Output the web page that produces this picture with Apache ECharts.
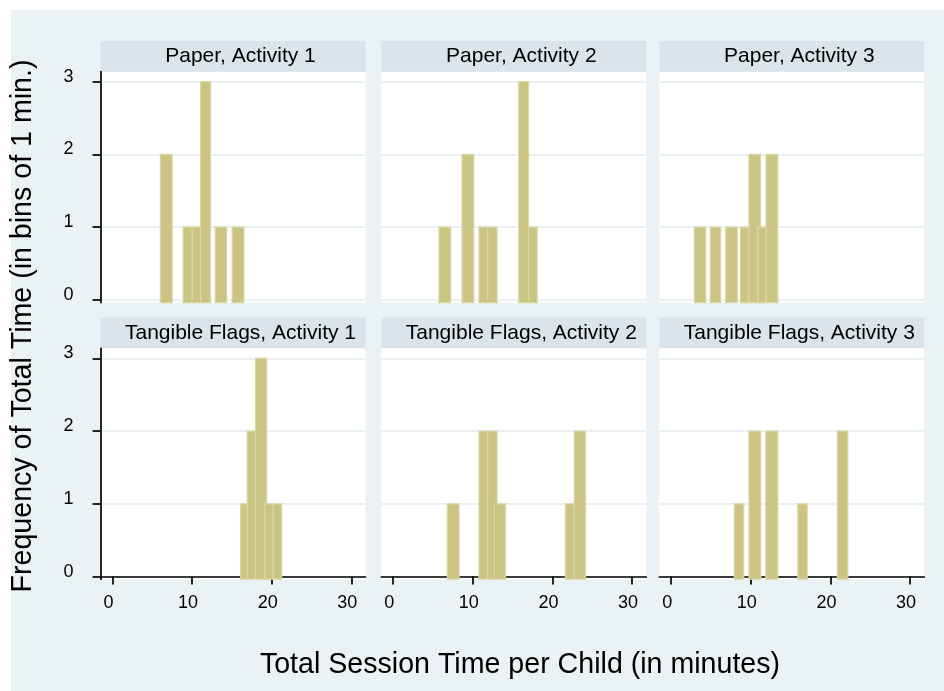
<!DOCTYPE html>
<html><head><meta charset="utf-8">
<script src="https://cdn.jsdelivr.net/npm/echarts@6.0.0/dist/echarts.min.js"></script>
<style>html,body{margin:0;padding:0;background:#fff}#c{width:944px;height:691px}</style>
</head><body><div id="c"></div>
<script>
// ---- data ----
const panelTitles = ['Paper, Activity 1', 'Paper, Activity 2', 'Paper, Activity 3',
  'Tangible Flags, Activity 1', 'Tangible Flags, Activity 2', 'Tangible Flags, Activity 3'];
const xTicks = [0, 10, 20, 30];
const yTicks = [0, 1, 2, 3];
const xTitle = 'Total Session Time per Child (in minutes)';
const yTitle = 'Frequency of Total Time (in bins of 1 min.)';
// bins: start and end (minutes) and frequency
const paper1Start = [6.03, 8.88, 10.02, 11.07, 12.91, 15.05];
const paper1End   = [7.50, 10.02, 11.07, 12.32, 14.34, 16.52];
const paper1Freq  = [2, 1, 1, 3, 1, 1];
const paper2Start = [5.75, 8.64, 10.78, 11.87, 15.77, 16.99];
const paper2End   = [7.22, 10.11, 11.87, 13.04, 16.99, 18.08];
const paper2Freq  = [1, 2, 1, 1, 3, 1];
const paper3Start = [2.90, 4.91, 6.84, 8.68, 9.77, 10.86, 11.91];
const paper3End   = [4.32, 6.21, 8.31, 9.77, 11.20, 11.91, 13.38];
const paper3Freq  = [1, 1, 1, 1, 2, 1, 2];
const flags1Start = [16.10, 16.93, 17.98, 19.12, 20.21];
const flags1End   = [16.93, 17.98, 19.37, 20.21, 21.25];
const flags1Freq  = [1, 2, 3, 1, 1];
const flags2Start = [6.80, 10.78, 11.87, 12.71, 21.64, 22.73];
const flags2End   = [8.26, 11.87, 13.04, 14.09, 22.73, 24.15];
const flags2Freq  = [1, 2, 2, 1, 1, 2];
const flags3Start = [7.93, 9.77, 11.87, 15.90, 20.88];
const flags3End   = [9.10, 11.24, 13.38, 17.07, 22.18];
const flags3Freq  = [1, 2, 2, 1, 2];

const starts = [paper1Start, paper2Start, paper3Start, flags1Start, flags2Start, flags3Start];
const ends = [paper1End, paper2End, paper3End, flags1End, flags2End, flags3End];
const freqs = [paper1Freq, paper2Freq, paper3Freq, flags1Freq, flags2Freq, flags3Freq];

// ---- layout ----
const FONT = '"Liberation Sans", Arial, sans-serif';
const colLeft = [100.5, 381.3, 659.3];
const rowTop = [71.7, 348.3];
const W = 265, H = 230.9, STRIP = 30.8;
const xMin = -1.5, xMax = 31.79, yMin = -0.036, yMax = 3.137;
const barFill = '#cbc483', barStroke = '#dad5a6';

const grids = [], xAxes = [], yAxes = [], series = [];
const graphics = [
  {type: 'rect', shape: {x: 0, y: 0, width: 944, height: 10}, style: {fill: '#fff'}},
  {type: 'rect', shape: {x: 0, y: 0, width: 11, height: 691}, style: {fill: '#fff'}}
];
for (let i = 0; i < 6; i++) {
  const r = Math.floor(i / 3), c = i % 3;
  grids.push({left: colLeft[c], top: rowTop[r], width: W, height: H, show: true,
    backgroundColor: '#ffffff', borderWidth: 0, containLabel: false, outerBoundsMode: 'none'});
  const showX = r === 1, showY = c === 0;
  xAxes.push({type: 'value', gridIndex: i, min: xMin, max: xMax,
    splitLine: {show: false},
    axisLine: {show: showX, onZero: true, lineStyle: {color: '#000', width: 1.7}},
    axisTick: {show: showX, customValues: xTicks, length: 8, lineStyle: {color: '#000', width: 1.7}},
    axisLabel: {show: showX, customValues: xTicks, margin: 15, padding: [0, 8, 0, 0],
      fontFamily: FONT, fontSize: 18, color: '#000'}});
  yAxes.push({type: 'value', gridIndex: i, min: yMin, max: yMax,
    axisLine: {show: showY, onZero: false, lineStyle: {color: '#000', width: 1.7}},
    axisTick: {show: showY, customValues: yTicks, length: 8, lineStyle: {color: '#000', width: 1.7}},
    axisLabel: {show: showY, customValues: yTicks, margin: 27, verticalAlign: 'bottom', lineHeight: 10,
      fontFamily: FONT, fontSize: 18, color: '#000'},
    splitLine: {show: true, lineStyle: {color: '#e3ecef', width: 1.6}}});
  series.push({type: 'custom', xAxisIndex: i, yAxisIndex: i, z: 3,
    data: starts[i].map((s, k) => [s, ends[i][k], freqs[i][k]]),
    encode: {x: [0, 1], y: 2},
    renderItem: function (params, api) {
      const p0 = api.coord([api.value(0), api.value(2)]);
      const p1 = api.coord([api.value(1), yMin]);
      return {type: 'rect',
        shape: {x: p0[0], y: p0[1], width: p1[0] - p0[0], height: p1[1] - p0[1]},
        style: {fill: barFill, stroke: barStroke, lineWidth: 1.3}};
    }});
  graphics.push({type: 'rect', shape: {x: colLeft[c], y: rowTop[r] - STRIP, width: W, height: STRIP},
    style: {fill: '#d9e5eb'}});
  graphics.push({type: 'text', x: colLeft[c] + 140, y: rowTop[r] - STRIP / 2,
    style: {text: panelTitles[i], font: '21px ' + FONT, fill: '#000', align: 'center', verticalAlign: 'middle'}});
}
graphics.push({type: 'text', x: 520, y: 665,
  style: {text: xTitle, font: '28.6px ' + FONT, fill: '#000', align: 'center', verticalAlign: 'middle'}});
graphics.push({type: 'text', x: 23, y: 326, rotation: Math.PI / 2,
  style: {text: yTitle, font: '28.6px ' + FONT, fill: '#000', align: 'center', verticalAlign: 'middle'}});

const chart = echarts.init(document.getElementById('c'), null, {renderer: 'canvas'});
chart.setOption({
  animation: false,
  backgroundColor: '#eaf2f3',
  grid: grids, xAxis: xAxes, yAxis: yAxes, series: series,
  graphic: graphics
});
</script></body></html>
